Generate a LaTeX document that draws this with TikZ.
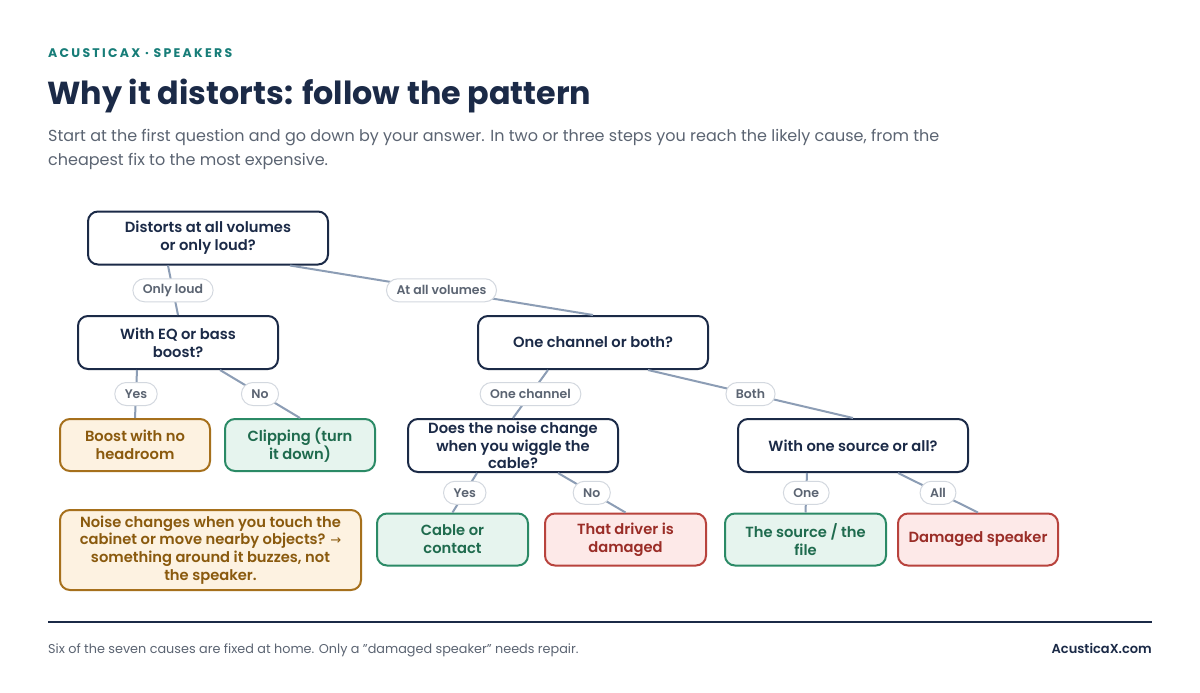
\documentclass[tikz,border=0pt]{standalone}
\usepackage{fontspec}
\setmainfont{Poppins}
\newfontfamily\popsb{Poppins}[UprightFont=* SemiBold, BoldFont=* Bold]
\newfontfamily\popbold{Poppins}[UprightFont=* Bold]
\newfontfamily\symfont{DejaVu Sans}
\definecolor{navy}{HTML}{1B2A47}
\definecolor{teal}{HTML}{177D78}
\definecolor{edgec}{HTML}{8C9DB5}
\definecolor{pillb}{HTML}{D3D8DF}
\definecolor{greyt}{HTML}{5B6472}
\definecolor{orfill}{HTML}{FDF2E1}
\definecolor{ordraw}{HTML}{A6701C}
\definecolor{ortext}{HTML}{8A5A0E}
\definecolor{grfill}{HTML}{E6F4EE}
\definecolor{grdraw}{HTML}{2B8A66}
\definecolor{grtext}{HTML}{1F6B4E}
\definecolor{rdfill}{HTML}{FDE9E8}
\definecolor{rddraw}{HTML}{B8433D}
\definecolor{rdtext}{HTML}{9A2D27}
\tikzset{
  box/.style={rectangle, rounded corners=10pt, line width=2pt, align=center, inner sep=0pt,
    font=\popsb\fontsize{14.7}{17.8}\selectfont},
  qbox/.style={box, draw=navy, fill=white, text=navy},
  obox/.style={box, draw=ordraw, fill=orfill, text=ortext},
  gbox/.style={box, draw=grdraw, fill=grfill, text=grtext},
  rbox/.style={box, draw=rddraw, fill=rdfill, text=rdtext},
  pill/.style={rectangle, rounded corners=11.5pt, draw=pillb, line width=1pt, fill=white,
    text=greyt, font=\popsb\fontsize{12.5}{14}\selectfont, minimum height=23pt, inner xsep=10pt, inner ysep=0pt, pos=0.5},
  edge/.style={draw=edgec, line width=2pt},
}
\begin{document}
\begin{tikzpicture}[x=1pt, y=-1pt]
\useasboundingbox (0,0) rectangle (1200,693);
\fill[white] (0,0) rectangle (1200,693);
% header
\node[anchor=base west, inner sep=0, text=teal, font=\popbold\fontsize{12.5}{14}\selectfont\addfontfeatures{LetterSpace=18}] (kicker) at (48,58) {ACUSTICAX · SPEAKERS};
\node[anchor=base west, inner sep=0, text=navy, font=\popbold\fontsize{31.8}{36}\selectfont] (title) at (47,104) {Why it distorts: follow the pattern};
\node[anchor=base west, inner sep=0, text=greyt, align=left, font=\fontsize{16}{24}\selectfont] (sub) at (48,165) {Start at the first question and go down by your answer. In two or three steps you reach the likely cause, from the\\cheapest fix to the most expensive.};
% nodes
\node[qbox, minimum width=240pt, minimum height=53pt] (root) at (208,238) {Distorts at all volumes\\or only loud?};
\node[qbox, minimum width=200pt, minimum height=53pt] (eq) at (178,342.5) {With EQ or bass\\boost?};
\node[qbox, minimum width=230pt, minimum height=53pt] (ch) at (593,342.5) {One channel or both?};
\node[obox, minimum width=150pt, minimum height=52pt] (boost) at (135,445) {Boost with no\\headroom};
\node[gbox, minimum width=150pt, minimum height=52pt] (clip) at (300,445) {Clipping (turn\\it down)};
\node[qbox, minimum width=210pt, minimum height=53pt] (noise) at (513,445.5) {Does the noise change\\when you wiggle the\\cable?};
\node[qbox, minimum width=230pt, minimum height=53pt] (src) at (853,445.5) {With one source or all?};
\node[gbox, minimum width=151pt, minimum height=52pt] (cable) at (452.5,539.5) {Cable or\\contact};
\node[rbox, minimum width=161pt, minimum height=52pt] (driver) at (625.5,539.5) {That driver is\\damaged};
\node[gbox, minimum width=161pt, minimum height=52pt] (file) at (805.5,539.5) {The source / the\\file};
\node[rbox, minimum width=160pt, minimum height=52pt] (spk) at (978,539.5) {Damaged speaker};
\node[obox, minimum width=301pt, minimum height=80pt] (note) at (210.5,550) {Noise changes when you touch the\\cabinet or move nearby objects? {\symfont\fontsize{13}{18}\selectfont →}\\something around it buzzes, not\\the speaker.};
% edges
\draw[edge] ([xshift=-40pt]root.south) -- node[pill]{Only loud} (eq.north);
\draw[edge] ([xshift=82pt]root.south) -- node[pill]{At all volumes} (ch.north);
\draw[edge] ([xshift=-41pt]eq.south) -- node[pill]{Yes} (boost.north);
\draw[edge] ([xshift=42pt]eq.south) -- node[pill]{No} (clip.north);
\draw[edge] ([xshift=-45pt]ch.south) -- node[pill]{One channel} (noise.north);
\draw[edge] ([xshift=55pt]ch.south) -- node[pill]{Both} (src.north);
\draw[edge] ([xshift=-36pt]noise.south) -- node[pill]{Yes} (cable.north);
\draw[edge] ([xshift=45pt]noise.south) -- node[pill]{No} (driver.north);
\draw[edge] ([xshift=-46pt]src.south) -- node[pill]{One} (file.north);
\draw[edge] ([xshift=45pt]src.south) -- node[pill]{All} (spk.north);
% footer
\coordinate (fl) at (48,622);
\coordinate (fr) at (1152,622);
\draw[navy, line width=2pt] (fl) -- (fr);
\node[anchor=base west, inner sep=0, text=greyt, font=\fontsize{12.8}{14}\selectfont] (foot) at (48,653) {Six of the seven causes are fixed at home. Only a \symbol{34}damaged speaker\symbol{34} needs repair.};
\node[anchor=base east, inner sep=0, text=navy, font=\popsb\fontsize{13}{14}\selectfont] (brand) at (1152,653) {AcusticaX.com};
\end{tikzpicture}
\end{document}
